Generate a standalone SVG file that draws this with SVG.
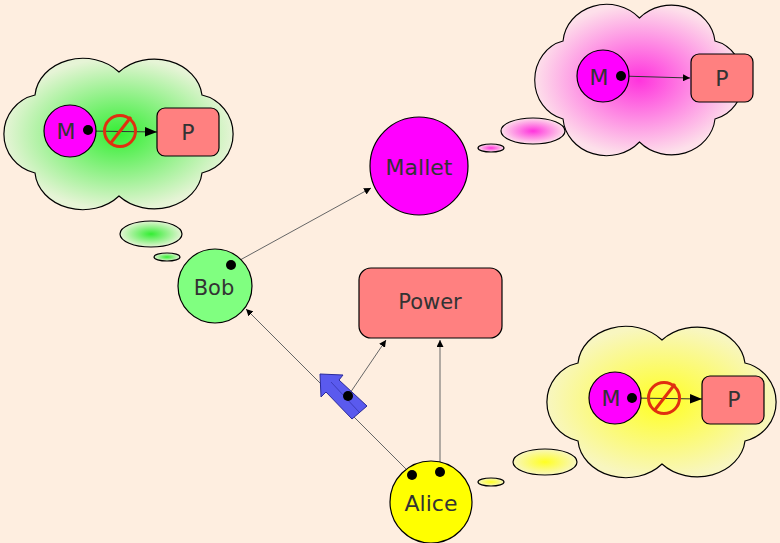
<svg xmlns="http://www.w3.org/2000/svg" width="780" height="543" viewBox="0 0 780 543">
<defs>
<radialGradient id="gG"><stop offset="0" stop-color="#33ee33"/><stop offset="1" stop-color="#e6f4d6"/></radialGradient>
<radialGradient id="gP"><stop offset="0" stop-color="#ff33dd"/><stop offset="1" stop-color="#fde0ea"/></radialGradient>
<radialGradient id="gY"><stop offset="0" stop-color="#ffff22"/><stop offset="1" stop-color="#f8f6c0"/></radialGradient>
<path id="cloud" d="M33,41 A48,40 0 0 1 117,18 A48,40 0 0 1 200,41 A40,40 0 0 1 200,119 A48,40 0 0 1 117,142 A48,40 0 0 1 33,119 A40,40 0 0 1 33,41 Z"/>
<marker id="ah" viewBox="0 0 10 10" refX="10" refY="5" markerWidth="7" markerHeight="7" orient="auto" markerUnits="userSpaceOnUse"><path d="M0,0 L10,5 L0,10 Z" fill="#000"/></marker>
<marker id="ahb" viewBox="0 0 10 10" refX="10" refY="5" markerWidth="12" markerHeight="12" orient="auto" markerUnits="userSpaceOnUse"><path d="M0,1 L10,5 L0,9 Z" fill="#000"/></marker>
</defs>
<style>
text{font-family:"DejaVu Sans",sans-serif;fill:#333;text-anchor:middle;dominant-baseline:central}
.s{stroke:#000;stroke-width:1.2}
.ln{stroke:#666;stroke-width:1;fill:none}
.dot{fill:#000}
.no{fill:none;stroke:#e03010;stroke-width:3}
</style>
<rect width="780" height="543" fill="#feeee0"/>
<g id="connectors">
<line class="ln" x1="231" y1="265" x2="371" y2="188" marker-end="url(#ah)"/>
<line class="ln" x1="412" y1="475" x2="246" y2="309" marker-end="url(#ah)"/>
<line class="ln" x1="348" y1="396" x2="386" y2="340" marker-end="url(#ah)"/>
<line class="ln" x1="440" y1="472" x2="440" y2="340" marker-end="url(#ah)"/>
</g>
<g id="cloud-bob">
<use href="#cloud" transform="translate(2,54)" fill="url(#gG)" class="s"/>
<ellipse cx="151" cy="234" rx="31" ry="13" fill="url(#gG)" class="s"/>
<ellipse cx="167" cy="257" rx="13" ry="4" fill="url(#gG)" class="s"/>
<line x1="88" y1="131" x2="157" y2="132" stroke="#333" marker-end="url(#ahb)"/>
<circle cx="70" cy="131" r="26" fill="#ff00ff" class="s"/><text x="66" y="131" font-size="22">M</text>
<circle cx="88" cy="130" r="5" class="dot"/>
<circle cx="120" cy="131" r="15.5" class="no"/><line class="no" x1="110" y1="144" x2="131" y2="117"/>
<rect x="157" y="108" width="62" height="48" rx="8" fill="#ff8080" class="s"/><text x="188" y="132" font-size="22">P</text>
</g>
<g id="cloud-mallet">
<use href="#cloud" transform="translate(533,0) scale(0.91,1)" fill="url(#gP)" class="s"/>
<ellipse cx="533" cy="131" rx="32" ry="13" fill="url(#gP)" class="s"/>
<ellipse cx="491" cy="148" rx="13" ry="4" fill="url(#gP)" class="s"/>
<line x1="621" y1="76" x2="690" y2="78" stroke="#333" marker-end="url(#ah)"/>
<circle cx="603" cy="76" r="26" fill="#ff00ff" class="s"/><text x="599" y="77" font-size="22">M</text>
<circle cx="621" cy="76" r="5" class="dot"/>
<rect x="691" y="54" width="62" height="48" rx="8" fill="#ff8080" class="s"/><text x="722" y="78" font-size="22">P</text>
</g>
<g id="cloud-alice">
<use href="#cloud" transform="translate(545,322)" fill="url(#gY)" class="s"/>
<ellipse cx="545" cy="462" rx="32" ry="13" fill="url(#gY)" class="s"/>
<ellipse cx="491" cy="482" rx="13" ry="4" fill="url(#gY)" class="s"/>
<line x1="632" y1="398" x2="702" y2="399" stroke="#333" marker-end="url(#ahb)"/>
<circle cx="615" cy="398" r="26" fill="#ff00ff" class="s"/><text x="611" y="398" font-size="22">M</text>
<circle cx="632" cy="398" r="5" class="dot"/>
<circle cx="664" cy="398" r="15.5" class="no"/><line class="no" x1="654" y1="411" x2="675" y2="384"/>
<rect x="702" y="376" width="62" height="48" rx="8" fill="#ff8080" class="s"/><text x="734" y="399" font-size="22">P</text>
</g>
<g id="mallet"><circle cx="419" cy="166" r="49" fill="#ff00ff" class="s"/><text x="419" y="167" font-size="22">Mallet</text></g>
<g id="bob"><circle cx="215" cy="286" r="37" fill="#80ff80" class="s"/><text x="214" y="288" font-size="21">Bob</text><circle cx="231" cy="265" r="5" class="dot"/></g>
<g id="power"><rect x="359" y="268" width="143" height="70" rx="12" fill="#ff8080" class="s"/><text x="430" y="302" font-size="21">Power</text></g>
<g id="alice"><circle cx="431" cy="502" r="41" fill="#ffff00" class="s"/><text x="431" y="503" font-size="22">Alice</text><circle cx="412" cy="475" r="5" class="dot"/><circle cx="440" cy="472" r="5" class="dot"/></g>
<g id="token">
<path d="M320,374 L343,375 L339,380 L367,406 L352,419 L326,392 L321,397 Z" fill="#5a5aee" stroke="#2a2a9a" stroke-width="1"/>
<line x1="331" y1="382" x2="359" y2="412" stroke="#2a2a9a" stroke-width="0.6"/>
<circle cx="348" cy="396" r="5" class="dot"/>
</g>
</svg>
